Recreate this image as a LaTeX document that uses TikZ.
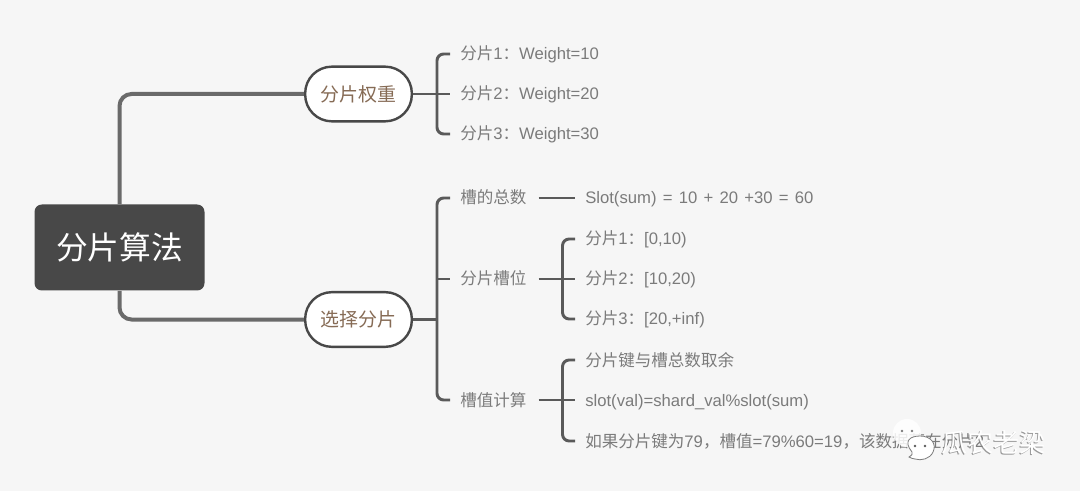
\documentclass[tikz,border=0pt]{standalone}
\usepackage{fontspec}
\setmainfont{Liberation Sans}[WordSpace=1.35]
\newfontfamily\cjkf{Noto Sans CJK SC}
\newcommand{\cj}[1]{{\cjkf\fontsize{12.4}{15}\selectfont #1}}
\usetikzlibrary{calc}
\definecolor{bgc}{HTML}{F6F6F6}
\definecolor{rootc}{HTML}{484848}
\definecolor{linec}{HTML}{5A5A5A}
\definecolor{branchc}{HTML}{6A6A6A}
\definecolor{labc}{HTML}{7B7B7B}
\definecolor{brownc}{HTML}{866B55}
\tikzset{
  x=0.75pt,y=-0.75pt,
  rootbox/.style={draw=none,fill=rootc,rounded corners=5.5pt,minimum width=127.5pt,minimum height=64.5pt,text=white,inner sep=0pt,font=\cjkf\fontsize{23.8}{28}\selectfont},
  pill/.style={draw=rootc,line width=1.8pt,fill=white,rounded corners=20pt,minimum width=80pt,minimum height=41pt,inner sep=0pt,text=brownc,font=\cjkf\fontsize{14.2}{17}\selectfont},
  leaf/.style={anchor=west,inner sep=0pt,text=labc,text height=12pt,text depth=3pt,font=\fontsize{12.5}{15}\selectfont},
  trunk/.style={draw=branchc,line width=3pt,rounded corners=9pt},
  conn/.style={draw=linec,line width=2.2pt,rounded corners=5pt},
  wmark/.style={inner sep=0pt,font=\cjkf\fontsize{19.5}{22}\selectfont},
  bubble/.style={fill=white,line width=0.6pt},
}
\begin{document}
\begin{tikzpicture}
\useasboundingbox (0,0) rectangle (1080,491);
\fill[bgc] (0,0) rectangle (1080,491);
% nodes
\node[rootbox] (root) at (119.5,247.5) {分片算法};
\node[pill] (w) at (358.5,94) {分片权重};
\node[pill] (s) at (358.5,319.5) {选择分片};
% leaf text
\node[leaf] (w1) at (460,54) {\cj{分片}1\cj{：}Weight=10};
\node[leaf] (w2) at (460,94) {\cj{分片}2\cj{：}Weight=20};
\node[leaf] (w3) at (460,134) {\cj{分片}3\cj{：}Weight=30};
\node[leaf] (t1) at (460,198) {\cj{槽的总数}};
\node[leaf] (t2) at (460,279) {\cj{分片槽位}};
\node[leaf] (t3) at (460,400) {\cj{槽值计算}};
\node[leaf] (t1a) at (585,198) {Slot(sum) = 10 + 20 +30 = 60};
\node[leaf] (p1) at (585,239) {\cj{分片}1\cj{：}[0,10)};
\node[leaf] (p2) at (585,279) {\cj{分片}2\cj{：}[10,20)};
\node[leaf] (p3) at (585,319) {\cj{分片}3\cj{：}[20,+inf)};
\node[leaf] (c1) at (585,360) {\cj{分片键与槽总数取余}};
\node[leaf] (c2) at (585,400) {slot(val)=shard\_val\%slot(sum)};
\node[leaf] (c3) at (585,441) {\cj{如果分片键为}79\cj{，槽值}=79\%60=19\cj{，该数据落在分片}2};
% trunk connectors
\draw[trunk] (root.north) |- (w.west);
\draw[trunk] (root.south) |- (s.west);
% group 1
\coordinate (wj) at (437,94);
\draw[conn] (w.east) -- ($(w2.west)+(-10,0)$);
\draw[conn] ($(w1.west)+(-10,0)$) -| (wj) |- ($(w3.west)+(-10,0)$);
% group 2
\coordinate (sj) at (437,319.5);
\draw[conn] (s.east) -- (sj);
\draw[conn] ($(t1.west)+(-10,0)$) -| (sj) |- ($(t3.west)+(-10,0)$);
\draw[conn] (sj |- t2.west) -- ($(t2.west)+(-10,0)$);
% group 3
\draw[conn] ($(t1.east)+(12,0)$) -- ($(t1a.west)+(-10,0)$);
\coordinate (pj) at (562.5,279);
\draw[conn] ($(t2.east)+(12,0)$) -- ($(p2.west)+(-10,0)$);
\draw[conn] ($(p1.west)+(-10,0)$) -| (pj) |- ($(p3.west)+(-10,0)$);
\coordinate (cj) at (562.5,400);
\draw[conn] ($(t3.east)+(12,0)$) -- ($(c2.west)+(-10,0)$);
\draw[conn] ($(c1.west)+(-10,0)$) -| (cj) |- ($(c3.west)+(-10,0)$);
% watermark
\fill[white,opacity=0.85] (907,433) circle (14);
\fill[labc] (902,431) circle (1.3) (912,431) circle (1.3);
\draw[bubble,draw=labc] (909,457) .. controls (912,455) and (913,454) .. (912,452) .. controls (903,441) and (910,436) .. (920,436) .. controls (931,436) and (937,444) .. (933,452) .. controls (930,459) and (921,461) .. (915,459) .. controls (913,459) and (911,458) .. (909,457) -- cycle;
\fill[linec] (915,446) circle (1.3) (925,446) circle (1.3);
\node[wmark,text=labc,opacity=0.75] (wm2) at (992.5,444) {瓜农老梁};
\node[wmark,text=white] (wm1) at (993.5,443) {瓜农老梁};
\end{tikzpicture}
\end{document}
